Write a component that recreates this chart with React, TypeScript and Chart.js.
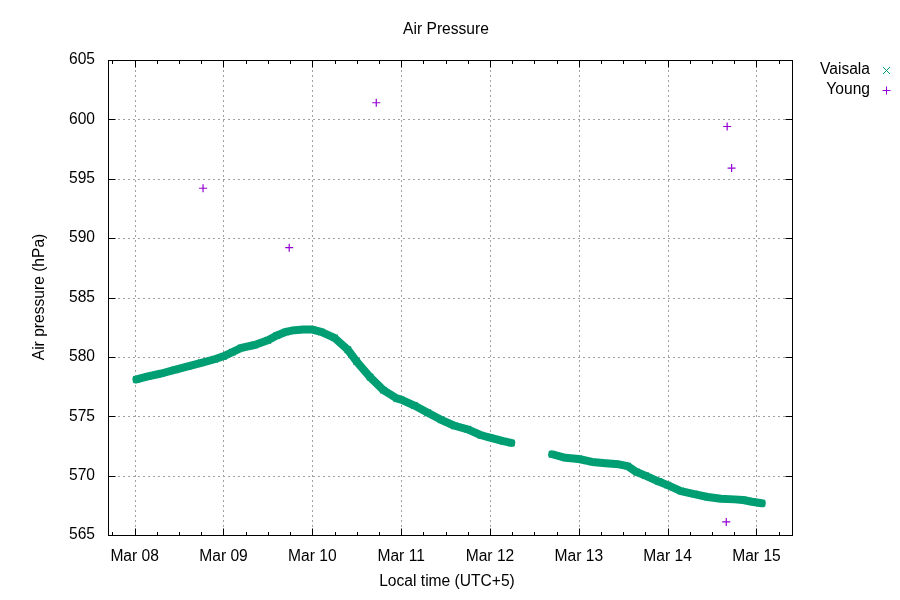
import React, { useEffect, useRef } from "react";
import { Chart, registerables } from "chart.js";

Chart.register(...registerables);

// Tick labels (day offsets 0..7 from Mar 08)
const xTickLabels = ["Mar 08", "Mar 09", "Mar 10", "Mar 11", "Mar 12", "Mar 13", "Mar 14", "Mar 15"];
const yTickValues = [565, 570, 575, 580, 585, 590, 595, 600, 605];

// Vaisala series (days since Mar 08 00:00, hPa); null marks the data gap
const vaisalaDays = [
  0.02, 0.15, 0.3, 0.45, 0.6, 0.75, 0.9, 1.0, 1.1, 1.2, 1.35, 1.5, 1.6, 1.7, 1.8, 1.9, 2.0,
  2.1, 2.25, 2.4, 2.5, 2.65, 2.8, 2.95, 3.0, 3.15, 3.3, 3.45, 3.6, 3.75, 3.9, 4.0, 4.15, 4.24,
  4.47,
  4.7, 4.85, 5.0, 5.15, 5.3, 5.45, 5.55, 5.65, 5.75, 5.9, 6.0, 6.15, 6.3, 6.45, 6.6, 6.75, 6.85, 6.95, 7.06,
];
const vaisalaValues = [
  578.1, 578.35, 578.6, 578.9, 579.2, 579.5, 579.8, 580.05, 580.4, 580.75, 581.0, 581.4, 581.8, 582.1, 582.25, 582.3, 582.3,
  582.1, 581.6, 580.6, 579.6, 578.3, 577.2, 576.5, 576.4, 575.9, 575.3, 574.7, 574.2, 573.9, 573.4, 573.2, 572.9, 572.75,
  null,
  571.8, 571.5, 571.4, 571.15, 571.05, 570.95, 570.8, 570.3, 570.0, 569.5, 569.2, 568.7, 568.45, 568.2, 568.05, 568.0, 567.95, 567.8, 567.67,
];

// Young series
const youngDays = [0.77, 1.74, 2.72, 6.66, 6.67, 6.72];
const youngValues = [594.2, 589.2, 601.4, 566.1, 599.4, 595.9];

const VAISALA_COLOR = "#009e73";
const YOUNG_COLOR = "#9400d3";
const FAMILY = "'Liberation Sans', Arial, sans-serif";
const FONT = "15.6px " + FAMILY;

const framePlugin = {
  id: "gnuFrame",
  beforeDatasetsDraw(chart: any) {
    const { ctx, chartArea: a, scales } = chart;
    const x = scales.x;
    const y = scales.y;
    ctx.save();
    ctx.strokeStyle = "#a0a0a0";
    ctx.lineWidth = 1;
    ctx.setLineDash([2, 3]);
    for (let i = 0; i < xTickLabels.length; i++) {
      const px = Math.round(x.getPixelForValue(i)) + 0.5;
      ctx.beginPath();
      ctx.moveTo(px, a.top);
      ctx.lineTo(px, a.bottom);
      ctx.stroke();
    }
    for (const v of yTickValues) {
      const py = Math.round(y.getPixelForValue(v)) + 0.5;
      ctx.beginPath();
      ctx.moveTo(a.left, py);
      ctx.lineTo(a.right, py);
      ctx.stroke();
    }
    ctx.restore();
  },
  afterDatasetsDraw(chart: any) {
    const { ctx, chartArea: a, scales } = chart;
    const x = scales.x;
    const y = scales.y;
    ctx.save();
    ctx.setLineDash([]);
    ctx.strokeStyle = "#000";
    ctx.lineWidth = 1;
    const L = Math.round(a.left) + 0.5;
    const R = Math.round(a.right) + 0.5;
    const T = Math.round(a.top) + 0.5;
    const B = Math.round(a.bottom) + 0.5;
    ctx.strokeRect(L, T, R - L, B - T);
    ctx.beginPath();
    // major x ticks (bottom and top)
    for (let i = 0; i < xTickLabels.length; i++) {
      const px = Math.round(x.getPixelForValue(i)) + 0.5;
      ctx.moveTo(px, B);
      ctx.lineTo(px, B - 7);
      ctx.moveTo(px, T);
      ctx.lineTo(px, T + 7);
    }
    // minor x ticks every 6 h
    for (let q = -1; q <= 29; q++) {
      if (q % 4 === 0) continue;
      const d = q / 4;
      if (d < x.min || d > x.max) continue;
      const px = Math.round(x.getPixelForValue(d)) + 0.5;
      ctx.moveTo(px, B);
      ctx.lineTo(px, B - 3.5);
      ctx.moveTo(px, T);
      ctx.lineTo(px, T + 3.5);
    }
    // y ticks left and right
    for (const v of yTickValues) {
      const py = Math.round(y.getPixelForValue(v)) + 0.5;
      ctx.moveTo(L, py);
      ctx.lineTo(L + 7, py);
      ctx.moveTo(R, py);
      ctx.lineTo(R - 7, py);
    }
    ctx.stroke();

    // texts
    ctx.fillStyle = "#000";
    ctx.font = FONT;
    ctx.textAlign = "center";
    ctx.textBaseline = "middle";
    ctx.fillText("Air Pressure", 446, 30);
    ctx.fillText("Local time (UTC+5)", 447, 582);
    ctx.save();
    ctx.translate(40, 297);
    ctx.rotate(-Math.PI / 2);
    ctx.fillText("Air pressure (hPa)", 0, 0);
    ctx.restore();

    // legend
    ctx.textAlign = "right";
    ctx.fillText("Vaisala", 870, 70);
    ctx.fillText("Young", 870, 90);
    ctx.lineWidth = 1;
    ctx.strokeStyle = VAISALA_COLOR;
    ctx.beginPath();
    ctx.moveTo(883, 67);
    ctx.lineTo(890, 74);
    ctx.moveTo(890, 67);
    ctx.lineTo(883, 74);
    ctx.stroke();
    ctx.strokeStyle = YOUNG_COLOR;
    ctx.beginPath();
    ctx.moveTo(882.5, 90.5);
    ctx.lineTo(890.5, 90.5);
    ctx.moveTo(886.5, 86.5);
    ctx.lineTo(886.5, 94.5);
    ctx.stroke();
    ctx.restore();
  },
};

export default function App() {
  const canvasRef = useRef<HTMLCanvasElement | null>(null);

  useEffect(() => {
    document.body.style.margin = "0";
    const canvas = canvasRef.current;
    if (!canvas) return;

    const vaisalaData = vaisalaDays.map((d, i) => ({ x: d, y: vaisalaValues[i] }));
    const youngData = youngDays.map((d, i) => ({ x: d, y: youngValues[i] }));

    const chart = new Chart(canvas, {
      type: "line",
      data: {
        datasets: [
          {
            label: "Vaisala",
            data: vaisalaData as any,
            borderColor: VAISALA_COLOR,
            backgroundColor: VAISALA_COLOR,
            borderWidth: 8,
            borderJoinStyle: "round",
            borderCapStyle: "round",
            pointStyle: "crossRot",
            pointRadius: 4.5,
            pointBorderWidth: 1.5,
            pointBorderColor: VAISALA_COLOR,
            spanGaps: false,
            tension: 0,
          },
          {
            label: "Young",
            data: youngData as any,
            borderColor: YOUNG_COLOR,
            backgroundColor: YOUNG_COLOR,
            showLine: false,
            pointStyle: "cross",
            pointRadius: 4,
            pointBorderWidth: 1.2,
            pointBorderColor: YOUNG_COLOR,
          },
        ],
      },
      options: {
        responsive: false,
        devicePixelRatio: 1,
        animation: false,
        layout: { padding: { top: 60, right: 108, bottom: 0, left: 0 } },
        plugins: {
          legend: { display: false },
          title: { display: false },
          tooltip: { enabled: false },
        },
        scales: {
          x: {
            type: "linear",
            min: -0.3,
            max: 7.4,
            grid: { display: false, drawTicks: false },
            border: { display: false },
            afterBuildTicks: (scale: any) => {
              scale.ticks = xTickLabels.map((_, i) => ({ value: i }));
            },
            afterFit: (scale: any) => {
              scale.height = 65;
            },
            ticks: {
              autoSkip: false,
              maxRotation: 0,
              padding: 12,
              color: "#000",
              font: { family: FAMILY, size: 15.6 },
              callback: (v: any) => xTickLabels[Math.round(Number(v))] ?? "",
            },
          },
          y: {
            type: "linear",
            min: 565,
            max: 605,
            grid: { display: false, drawTicks: false },
            border: { display: false },
            afterBuildTicks: (scale: any) => {
              scale.ticks = yTickValues.map((v) => ({ value: v }));
            },
            afterFit: (scale: any) => {
              scale.width = 108;
            },
            ticks: {
              padding: 13,
              color: "#000",
              font: { family: FAMILY, size: 15.6 },
              callback: (v: any) => String(v),
            },
          },
        },
      },
      plugins: [framePlugin],
    });

    return () => {
      chart.destroy();
    };
  }, []);

  return (
    <div style={{ width: 900, height: 600, background: "#fff" }}>
      <canvas ref={canvasRef} width={900} height={600} />
    </div>
  );
}
